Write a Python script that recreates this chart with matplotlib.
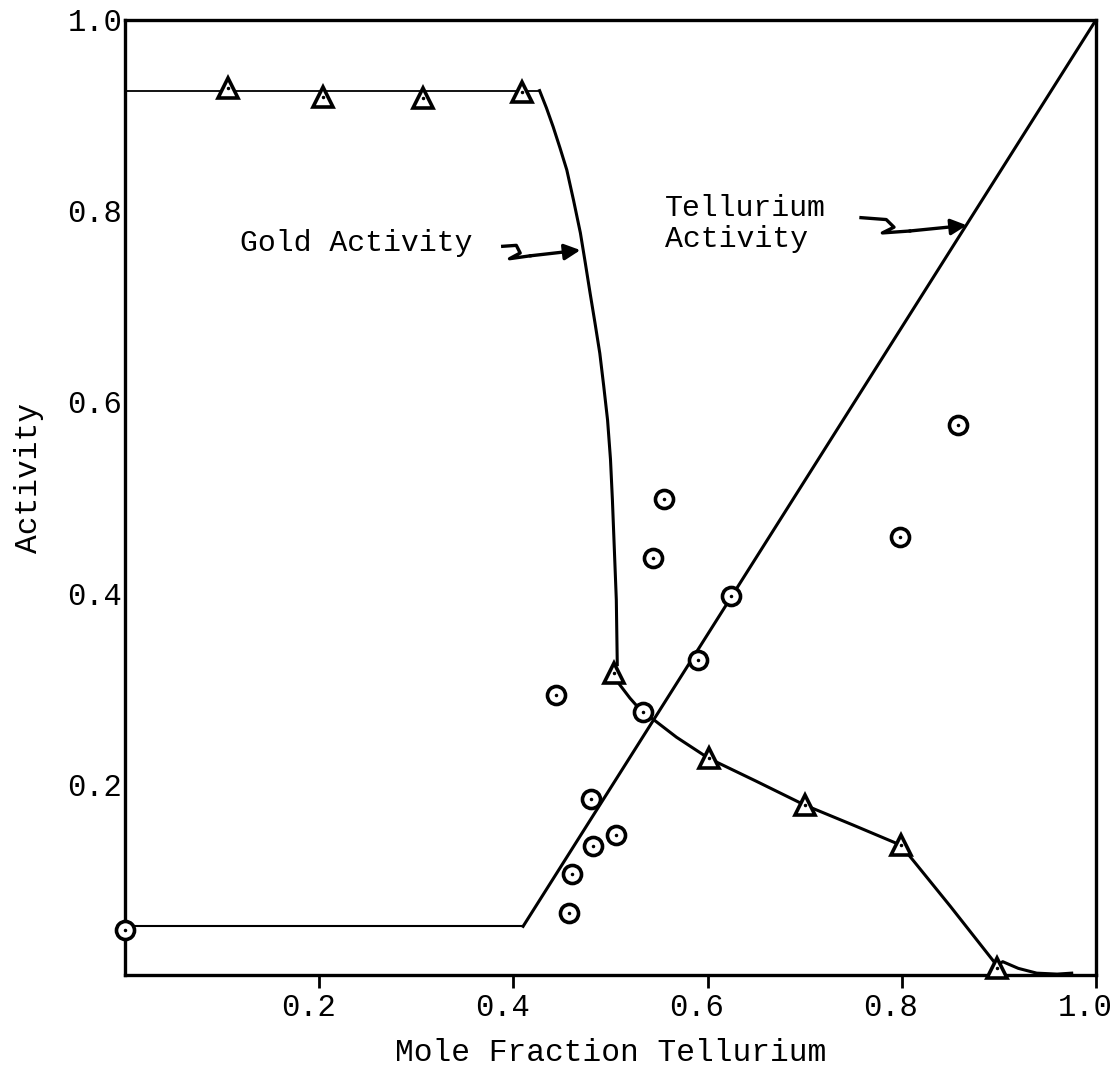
import matplotlib.pyplot as plt
from matplotlib.transforms import ScaledTranslation

plt.rcParams['font.family'] = ['Liberation Mono', 'DejaVu Sans Mono']

# Gold activity (triangles)
gold_x = [0.106, 0.204, 0.307, 0.409, 0.504, 0.601, 0.700, 0.799, 0.898]
gold_y = [0.929, 0.919, 0.918, 0.925, 0.316, 0.227, 0.178, 0.136, 0.007]

# hand-drawn gold curve
gold_curve_x = [0.0, 0.427, 0.434, 0.441, 0.448, 0.455, 0.462, 0.469, 0.474, 0.479,
                0.484, 0.489, 0.493, 0.497, 0.500, 0.502, 0.504, 0.506, 0.507]
gold_curve_y = [0.926, 0.926, 0.908, 0.888, 0.866, 0.843, 0.811, 0.777, 0.746, 0.714,
                0.683, 0.651, 0.617, 0.581, 0.540, 0.497, 0.445, 0.393, 0.325]
gold_low_x = [0.508, 0.520, 0.533, 0.545, 0.568, 0.601, 0.650, 0.700, 0.750, 0.799,
              0.850, 0.898, 0.904, 0.920, 0.939, 0.960, 0.975]
gold_low_y = [0.306, 0.290, 0.275, 0.267, 0.249, 0.227, 0.203, 0.178, 0.157, 0.136,
              0.072, 0.010, 0.014, 0.007, 0.002, 0.001, 0.002]

# Tellurium activity (circles)
te_x = [0.0, 0.444, 0.457, 0.460, 0.482, 0.480, 0.506, 0.533, 0.544, 0.555, 0.590, 0.624, 0.798, 0.858]
te_y = [0.047, 0.293, 0.065, 0.106, 0.135, 0.184, 0.147, 0.275, 0.437, 0.498, 0.330, 0.397, 0.459, 0.576]

te_line_x = [0.0, 0.410, 1.0]
te_line_y = [0.051, 0.051, 1.0]

ticks = [0.2, 0.4, 0.6, 0.8, 1.0]
tick_labels = ['0.2', '0.4', '0.6', '0.8', '1.0']

# squiggly pointer arrows
gold_arrow_x = [0.389, 0.403, 0.407, 0.396, 0.417, 0.469]
gold_arrow_y = [0.763, 0.764, 0.756, 0.750, 0.753, 0.759]
te_arrow_x = [0.758, 0.784, 0.792, 0.780, 0.808, 0.867]
te_arrow_y = [0.793, 0.791, 0.783, 0.777, 0.779, 0.785]

fig = plt.figure(figsize=(11.18, 10.78), dpi=100)
ax = fig.add_axes([0.1118, 0.0955, 0.8685, 0.886])

# curves
ax.plot(gold_curve_x[:2], gold_curve_y[:2], color='black', lw=1.3)
ax.plot(gold_curve_x[1:], gold_curve_y[1:], color='black', lw=2.2)
ax.plot(gold_low_x, gold_low_y, color='black', lw=2.2)
ax.plot(te_line_x[:2], te_line_y[:2], color='black', lw=1.5)
ax.plot(te_line_x[1:], te_line_y[1:], color='black', lw=2.2)

# markers
ax.plot(gold_x, gold_y, linestyle='none', marker='^', ms=15, mew=2.6,
        mfc='white', mec='black', zorder=4, clip_on=False)
ax.plot(te_x, te_y, linestyle='none', marker='o', ms=13, mew=2.6,
        mfc='white', mec='black', zorder=4, clip_on=False)
ax.plot(gold_x + te_x, gold_y + te_y, linestyle='none', marker='.', ms=3,
        color='black', zorder=5, clip_on=False)

# labels with arrows
ax.text(0.118, 0.766, 'Gold Activity', fontsize=21.5, va='center', ha='left')
ax.plot(gold_arrow_x[:-1], gold_arrow_y[:-1], color='black', lw=2.4)
ax.annotate('', xy=(gold_arrow_x[-1], gold_arrow_y[-1]),
            xytext=(gold_arrow_x[-2], gold_arrow_y[-2]),
            arrowprops=dict(arrowstyle='-|>', color='black', lw=2.4,
                            mutation_scale=24, shrinkA=0, shrinkB=0))

ax.text(0.556, 0.787, 'Tellurium\nActivity', fontsize=21.5, va='center',
        ha='left', linespacing=1.15)
ax.plot(te_arrow_x[:-1], te_arrow_y[:-1], color='black', lw=2.4)
ax.annotate('', xy=(te_arrow_x[-1], te_arrow_y[-1]),
            xytext=(te_arrow_x[-2], te_arrow_y[-2]),
            arrowprops=dict(arrowstyle='-|>', color='black', lw=2.4,
                            mutation_scale=24, shrinkA=0, shrinkB=0))

# axes
ax.set_xlim(0, 1.0)
ax.set_ylim(0, 1.0)
ax.set_xticks(ticks)
ax.set_xticklabels(tick_labels)
ax.set_yticks(ticks)
ax.set_yticklabels(tick_labels)
ax.tick_params(axis='x', direction='out', length=9, width=2, pad=4, labelsize=22)
ax.tick_params(axis='y', length=0, pad=2, labelsize=22)
shift = ScaledTranslation(-8 / 72, 0, fig.dpi_scale_trans)
for lbl in ax.get_xticklabels():
    lbl.set_transform(lbl.get_transform() + shift)
for s in ax.spines.values():
    s.set_linewidth(2.4)

ax.set_xlabel('Mole Fraction Tellurium', fontsize=22.5, labelpad=11)
ax.set_ylabel('Activity', fontsize=22.5)
ax.yaxis.set_label_coords(-0.083, 0.52)

fig.savefig('out.png', dpi=100)
